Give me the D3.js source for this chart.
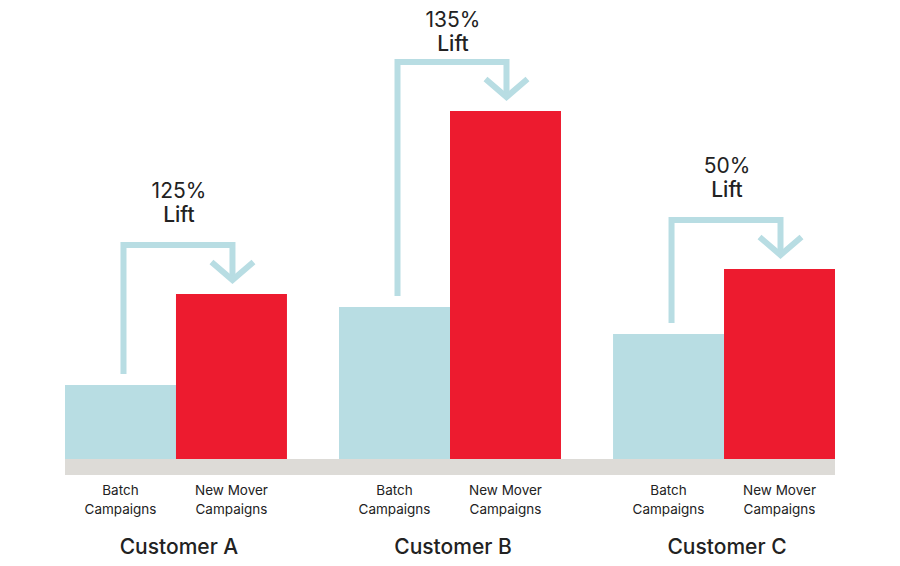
<!DOCTYPE html>
<html>
<head>
<meta charset="utf-8">
<script src="https://cdn.jsdelivr.net/npm/d3@7"></script>
<style>
  body { margin: 0; background: #fff; }
  text { font-family: Inter, "Open Sans", sans-serif; fill: #222; }
</style>
</head>
<body>
<svg id="chart"></svg>
<script>
// values (arbitrary units)
const customers = ['Customer A', 'Customer B', 'Customer C'];
const series = ['Batch', 'New Mover'];
const seriesLabels = [['Batch', 'Campaigns'], ['New Mover', 'Campaigns']];
const batch = [74, 152, 125];
const newMover = [165, 348, 190];
const lifts = ['125%', '135%', '50%'];

const width = 900;
const height = 566;
const colors = { 'Batch': '#b8dde3', 'New Mover': '#ed1b2f' };

const svg = d3.select('#chart')
  .attr('width', width)
  .attr('height', height);

const x = d3.scaleBand()
  .domain(customers)
  .range([65, 835])
  .paddingInner(0.19);

const xs = d3.scaleBand()
  .domain(series)
  .range([0, x.bandwidth()]);

const y = d3.scaleLinear()
  .domain([0, 400])
  .range([459, 59]);

const data = customers.map((c, i) => ({
  customer: c,
  lift: lifts[i],
  values: [
    { key: 'Batch', value: batch[i] },
    { key: 'New Mover', value: newMover[i] }
  ]
}));

// grey floor under the bars
svg.append('rect')
  .attr('x', x.range()[0])
  .attr('y', y(0))
  .attr('width', x.range()[1] - x.range()[0])
  .attr('height', 16)
  .attr('fill', '#dddbd7');

const group = svg.selectAll('.group')
  .data(data)
  .enter().append('g')
    .attr('class', 'group')
    .attr('transform', d => 'translate(' + x(d.customer) + ',0)');

group.selectAll('rect')
  .data(d => d.values)
  .enter().append('rect')
    .attr('x', d => xs(d.key))
    .attr('y', d => y(d.value))
    .attr('width', xs.bandwidth())
    .attr('height', d => y(0) - y(d.value))
    .attr('fill', d => colors[d.key]);

// bracket arrow from batch bar to new mover bar
group.each(function(d) {
  const g = d3.select(this);
  const x0 = xs('Batch') + xs.bandwidth() / 2 + 3;
  const x1 = xs('New Mover') + xs.bandwidth() / 2 + 1;
  const top0 = y(d.values[0].value);
  const top1 = y(d.values[1].value);
  const by = top1 - 49;
  const tip = top1 - 15;

  g.append('path')
    .attr('d', 'M' + x0 + ',' + (top0 - 11) + 'V' + by + 'H' + x1 + 'V' + tip)
    .attr('fill', 'none')
    .attr('stroke', colors['Batch'])
    .attr('stroke-width', 6)
    .attr('stroke-linejoin', 'miter');

  g.append('path')
    .attr('d', 'M' + (x1 - 21) + ',' + (tip - 17) + 'L' + x1 + ',' + (tip + 1) + 'L' + (x1 + 21) + ',' + (tip - 17))
    .attr('fill', 'none')
    .attr('stroke', colors['Batch'])
    .attr('stroke-width', 6)
    .attr('stroke-linejoin', 'miter');

  const ly = Math.max(by - 23, 51);
  const cx = x.bandwidth() / 2 + 3;
  g.append('text')
    .attr('x', cx)
    .attr('y', ly - 24)
    .attr('text-anchor', 'middle')
    .style('font-size', '21px')
    .text(d.lift);
  g.append('text')
    .attr('x', cx)
    .attr('y', ly)
    .attr('text-anchor', 'middle')
    .style('font-size', '21px')
    .style('font-weight', 500)
    .text('Lift');
});

// series labels under each bar
group.selectAll('.series-label')
  .data(() => series.map((s, i) => ({ key: s, lines: seriesLabels[i] })))
  .enter().append('text')
    .attr('class', 'series-label')
    .attr('x', d => xs(d.key) + xs.bandwidth() / 2)
    .attr('y', 495)
    .attr('text-anchor', 'middle')
    .style('font-size', '13.5px')
    .selectAll('tspan')
    .data(d => d.lines)
    .enter().append('tspan')
      .attr('x', function() { return d3.select(this.parentNode).attr('x'); })
      .attr('dy', (d, i) => i ? 18.5 : 0)
      .text(d => d);

// customer names
group.append('text')
  .attr('x', x.bandwidth() / 2 + 3)
  .attr('y', 554)
  .attr('text-anchor', 'middle')
  .style('font-size', '21px')
  .style('font-weight', 500)
  .text(d => d.customer);
</script>
</body>
</html>
